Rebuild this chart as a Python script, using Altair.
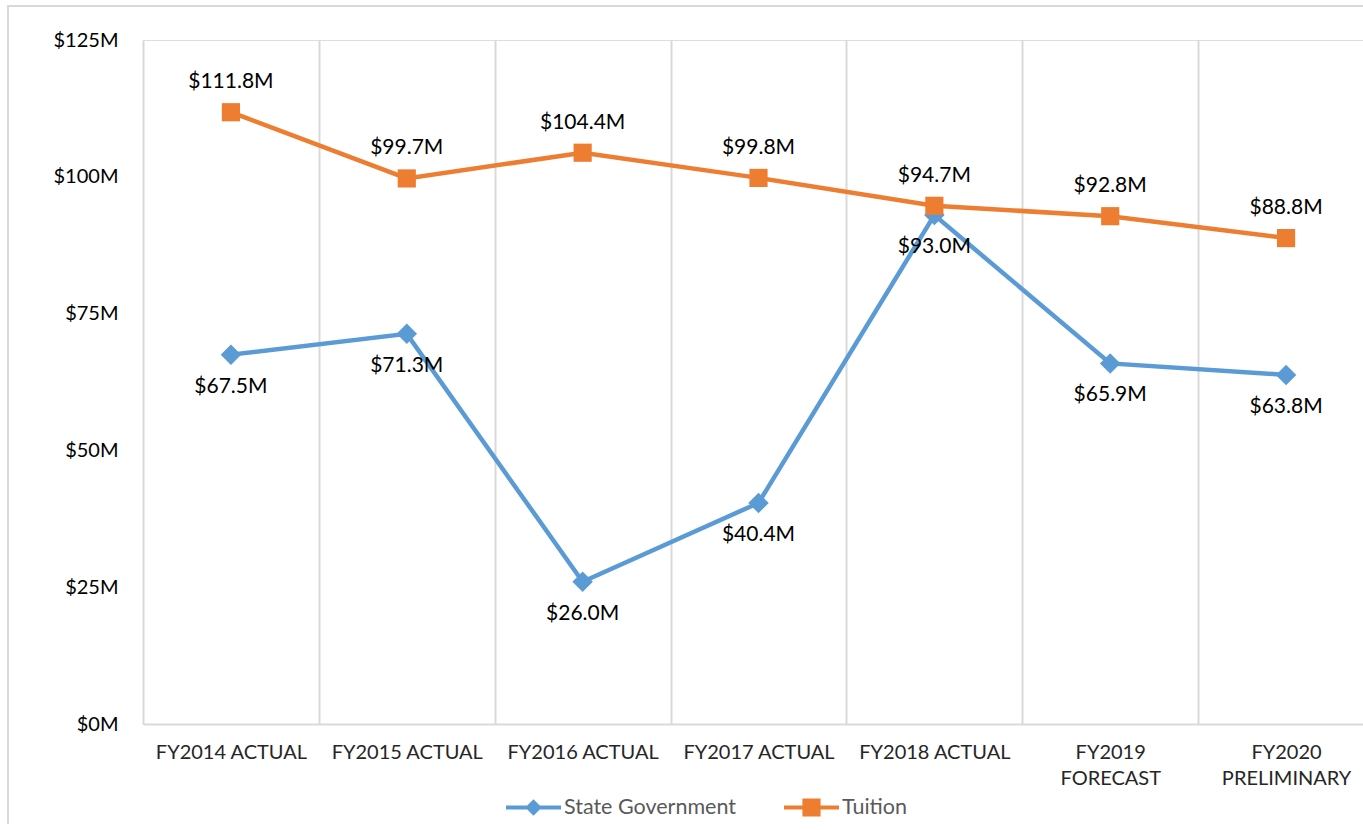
import altair as alt
import pandas as pd

categories = ["FY2014 ACTUAL", "FY2015 ACTUAL", "FY2016 ACTUAL", "FY2017 ACTUAL",
              "FY2018 ACTUAL", "FY2019 FORECAST", "FY2020 PRELIMINARY"]
series_names = ["State Government", "Tuition"]
state_gov = [67.5, 71.3, 26.0, 40.4, 93.0, 65.9, 63.8]
tuition = [111.8, 99.7, 104.4, 99.8, 94.7, 92.8, 88.8]
y_ticks = [0, 25, 50, 75, 100, 125]

rows = []
for c, v in zip(categories, state_gov):
    rows.append({"cat": c, "series": series_names[0], "value": v})
for c, v in zip(categories, tuition):
    rows.append({"cat": c, "series": series_names[1], "value": v})
df = pd.DataFrame(rows)

BLUE = "#5B9BD5"
ORANGE = "#ED7D31"
GRID = "#D9D9D9"
FONT = "Lato"

PLOT_W = 1220
PLOT_H = 684

color_scale = alt.Scale(domain=series_names, range=[BLUE, ORANGE])

leg = dict(title=None, orient="none", direction="horizontal",
           legendX=363, legendY=740, symbolSize=3025,
           symbolStrokeWidth=0, labelFont=FONT,
           labelFontSize=21.5, labelColor="#595959", labelLimit=400,
           labelOffset=3, columnPadding=48, padding=0, zindex=1)
color_enc = alt.Color("series:N", scale=color_scale, legend=alt.Legend(**leg))

x_enc = alt.X(
    "cat:N",
    sort=categories,
    title=None,
    scale=alt.Scale(type="band", domain=categories, range=[0, 1231],
                    paddingInner=0, paddingOuter=0),
    axis=alt.Axis(
        tickBand="extent", grid=True, gridColor=GRID, gridWidth=2,
        ticks=False, domain=True, domainColor=GRID, domainWidth=2,
        labelAngle=0, labelFont=FONT, labelFontSize=20, labelColor="#262626",
        labelPadding=18, labelLineHeight=26, labelLimit=300,
        labelExpr="length(datum.label) > 13 ? split(datum.label, ' ') : datum.label",
    ),
)
y_enc = alt.Y(
    "value:Q",
    title=None,
    scale=alt.Scale(domain=[0, 125], nice=False, zero=True),
    axis=alt.Axis(values=y_ticks, grid=False, ticks=False, domain=False,
                  labelFont=FONT, labelFontSize=20, labelColor="#000000",
                  labelPadding=25,
                  labelExpr="'$' + datum.value + 'M'"),
)

base = alt.Chart(df).encode(x=x_enc, y=y_enc)

border = alt.Chart(alt.Data(values=[{}])).mark_rect(
    filled=False, fillOpacity=0, stroke=GRID, strokeWidth=2, clip=False
).encode(x=alt.value(-135), x2=alt.value(1300), y=alt.value(-34), y2=alt.value(900))

lines = base.mark_line(strokeWidth=4.5).encode(
    color=color_enc,
    detail="series:N",
)

points = base.transform_calculate(
    mk="datum.series == 'Tuition' ? 'square' : 'diamond'"
).mark_point(filled=True, opacity=1).encode(
    color=color_enc,
    shape=alt.Shape("mk:N", scale=None, legend=None),
    size=alt.condition("datum.series == 'Tuition'", alt.value(330), alt.value(420)),
)

lbl = base.transform_calculate(
    lab="'$' + format(datum.value, '.1f') + 'M'"
)
labels_t = lbl.transform_filter("datum.series == 'Tuition'").mark_text(
    font=FONT, fontSize=21, color="#000000", dy=-30
).encode(text="lab:N")
labels_s = lbl.transform_filter("datum.series == 'State Government'").mark_text(
    font=FONT, fontSize=21, color="#000000", dy=32
).encode(text="lab:N")

legend_paths = [
    "M-1,-0.075L1,-0.075L1,0.075L-1,0.075Z M0,-0.3L0.3,0L0,0.3L-0.3,0Z",
    "M-1,-0.075L1,-0.075L1,0.075L-1,0.075Z M-0.33,-0.33L0.33,-0.33L0.33,0.33L-0.33,0.33Z",
]
legend_layer = base.transform_filter("false").mark_point(filled=True, opacity=1).encode(
    color=color_enc,
    shape=alt.Shape("series:N", scale=alt.Scale(domain=series_names, range=legend_paths),
                    legend=alt.Legend(**leg)),
)

chart = alt.layer(border, lines, points, labels_t, labels_s, legend_layer).properties(
    width=PLOT_W, height=PLOT_H,
    autosize=alt.AutoSizeParams(type="none"),
    padding={"left": 143, "top": 40, "right": 0, "bottom": 100},
).configure_view(stroke=None).configure(background="white")

chart.save("out.html", embed_options={"renderer": "svg", "actions": False})
